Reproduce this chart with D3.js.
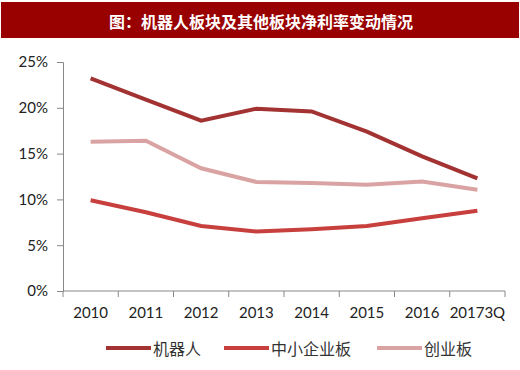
<!DOCTYPE html>
<html lang="zh">
<head>
    <meta charset="UTF-8">
    <title>机器人板块及其他板块净利率变动情况</title>
    <script src="https://d3js.org/d3.v7.min.js"></script>
    <style>
        body { margin: 0; background: #fff; }
        .axis text { font-family: Lato, "Noto Sans", sans-serif; font-size: 15px; fill: #222; }
        .axis path, .axis line { stroke: #888; }
    </style>
</head>
<body>
    <div id="chart"></div>
    <script>
        // categories and values (net margin, %)
        const years = ["2010", "2011", "2012", "2013", "2014", "2015", "2016", "20173Q"];
        const seriesNames = ["机器人", "中小企业板", "创业板"];
        const robot = [23.2, 20.9, 18.6, 19.9, 19.6, 17.4, 14.7, 12.3];
        const smeBoard = [9.9, 8.6, 7.1, 6.5, 6.75, 7.1, 7.95, 8.75];
        const gemBoard = [16.3, 16.4, 13.4, 11.9, 11.8, 11.6, 11.95, 11.05];
        const yTicks = [0, 5, 10, 15, 20, 25];

        const colors = ["#a33232", "#c8403e", "#daa3a3"];
        const series = [robot, smeBoard, gemBoard];

        const width = 520, height = 370;
        const margin = { top: 62, right: 15, bottom: 79, left: 63 };

        const svg = d3.select("#chart").append("svg")
            .attr("width", width)
            .attr("height", height);

        // title banner
        svg.append("rect")
            .attr("x", 1).attr("y", 2)
            .attr("width", 518).attr("height", 36)
            .attr("fill", "#990000");
        svg.append("text")
            .attr("x", 261).attr("y", 21)
            .attr("text-anchor", "middle")
            .attr("dominant-baseline", "central")
            .style("font-family", "'Noto Sans CJK SC', sans-serif")
            .style("font-weight", "bold")
            .style("font-size", "16px")
            .attr("fill", "#fff")
            .text("图：机器人板块及其他板块净利率变动情况");

        const x = d3.scaleBand()
            .domain(years)
            .range([margin.left, width - margin.right]);

        const y = d3.scaleLinear()
            .domain([0, 25])
            .range([height - margin.bottom, margin.top]);

        // y axis
        const yAxis = svg.append("g")
            .attr("class", "axis")
            .attr("transform", `translate(${margin.left},0)`)
            .call(d3.axisLeft(y).tickValues(yTicks).tickFormat(d => d + "%").tickSize(6).tickPadding(9));

        // x axis with ticks at band edges
        const xAxis = svg.append("g")
            .attr("class", "axis")
            .attr("transform", `translate(0,${height - margin.bottom})`)
            .call(d3.axisBottom(x).tickSize(0).tickPadding(16));
        xAxis.select(".domain").attr("d", `M${margin.left},0H${width - margin.right}`);
        xAxis.selectAll(".edge")
            .data(years.map(d => x(d)).concat([x(years[years.length - 1]) + x.bandwidth()]))
            .enter().append("line")
            .attr("x1", d => d).attr("x2", d => d)
            .attr("y1", 0).attr("y2", 6)
            .attr("stroke", "#888");

        // lines
        const line = d3.line()
            .x((d, i) => x(years[i]) + x.bandwidth() / 2)
            .y(d => y(d));

        series.forEach((vals, k) => {
            svg.append("path")
                .datum(vals)
                .attr("fill", "none")
                .attr("stroke", colors[k])
                .attr("stroke-width", 4)
                .attr("d", line);
        });

        // legend
        const legendX = [106, 224, 377];
        const legend = svg.selectAll(".legend")
            .data(seriesNames)
            .enter().append("g")
            .attr("class", "legend")
            .attr("transform", (d, i) => `translate(${legendX[i]},348)`);
        legend.append("line")
            .attr("x1", 0).attr("x2", 45)
            .attr("stroke", (d, i) => colors[i])
            .attr("stroke-width", 4);
        legend.append("text")
            .attr("x", 47)
            .attr("dominant-baseline", "central")
            .style("font-family", "'Noto Sans CJK SC', sans-serif")
            .style("font-size", "16px")
            .attr("fill", "#333")
            .text(d => d);
    </script>
</body>
</html>
